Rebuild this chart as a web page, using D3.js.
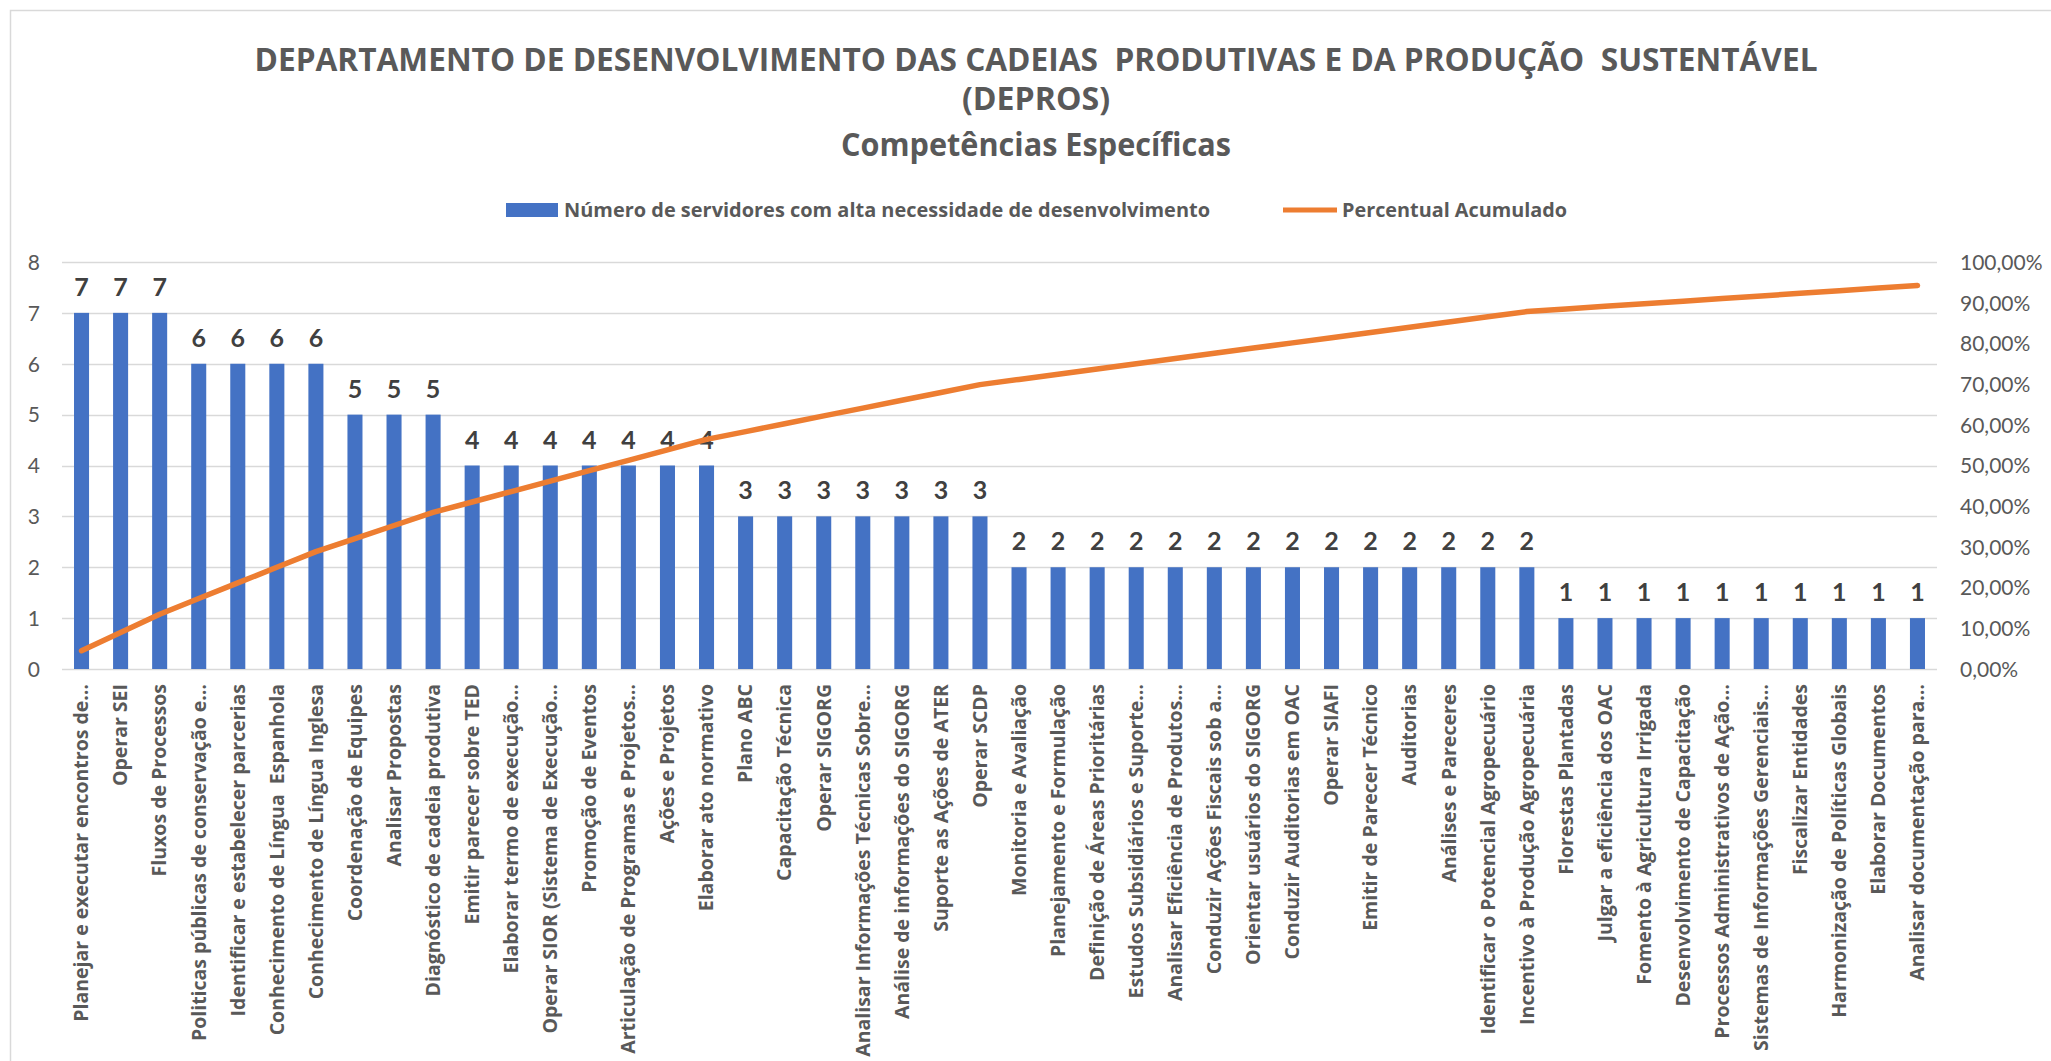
<!DOCTYPE html>
<html>
<head>
<meta charset="utf-8">
<script src="https://cdn.jsdelivr.net/npm/d3@7"></script>
<style>
  html, body { margin: 0; padding: 0; background: #fff; }
  svg { display: block; }
</style>
</head>
<body>
<svg width="2051" height="1061"></svg>
<script>
var categories = [
  'Planejar e executar encontros de…', 'Operar SEI', 'Fluxos de Processos',
  'Politicas públicas de conservação e…', 'Identificar e estabelecer parcerias',
  'Conhecimento de Língua  Espanhola', 'Conhecimento de Língua Inglesa',
  'Coordenação de Equipes', 'Analisar Propostas', 'Diagnóstico de cadeia produtiva',
  'Emitir parecer sobre TED', 'Elaborar termo de execução…',
  'Operar SIOR (Sistema de Execução…', 'Promoção de Eventos',
  'Articulação de Programas e Projetos…', 'Ações e Projetos', 'Elaborar ato normativo',
  'Plano ABC', 'Capacitação Técnica', 'Operar SIGORG',
  'Analisar Informações Técnicas Sobre…', 'Análise de informações do SIGORG',
  'Suporte as Ações de ATER', 'Operar SCDP', 'Monitoria e Avaliação',
  'Planejamento e Formulação', 'Definição de Áreas Prioritárias',
  'Estudos Subsidiários e Suporte…', 'Analisar Eficiência de Produtos…',
  'Conduzir Ações Fiscais sob a…', 'Orientar usuários do SIGORG',
  'Conduzir Auditorias em OAC', 'Operar SIAFI', 'Emitir de Parecer Técnico',
  'Auditorias', 'Análises e Pareceres', 'Identificar o Potencial Agropecuário',
  'Incentivo à Produção Agropecuária', 'Florestas Plantadas',
  'Julgar a eficiência dos OAC', 'Fomento à Agricultura Irrigada',
  'Desenvolvimento de Capacitação', 'Processos Administrativos de Ação…',
  'Sistemas de Informações Gerenciais…', 'Fiscalizar Entidades',
  'Harmonização de Políticas Globais', 'Elaborar Documentos',
  'Analisar documentação para…'
]

var servidores = [7, 7, 7, 6, 6, 6, 6, 5, 5, 5, 4, 4, 4, 4, 4, 4, 4, 3, 3, 3, 3, 3, 3, 3,
  2, 2, 2, 2, 2, 2, 2, 2, 2, 2, 2, 2, 2, 2, 1, 1, 1, 1, 1, 1, 1, 1, 1, 1]

// percentual acumulado (%)
var acumulado = [4.49, 8.97, 13.46, 17.31, 21.15, 25.00, 28.85, 32.05, 35.26, 38.46,
  41.03, 43.59, 46.15, 48.72, 51.28, 53.85, 56.41, 58.33, 60.26, 62.18, 64.10, 66.03,
  67.95, 69.87, 71.15, 72.44, 73.72, 75.00, 76.28, 77.56, 78.85, 80.13, 81.41, 82.69,
  83.97, 85.26, 86.54, 87.82, 88.46, 89.10, 89.74, 90.38, 91.03, 91.67, 92.31, 92.95,
  93.59, 94.23]

var leftTicks = [0, 1, 2, 3, 4, 5, 6, 7, 8]
var rightTicks = [0, 10, 20, 30, 40, 50, 60, 70, 80, 90, 100]

var titleLines = [
  'DEPARTAMENTO DE DESENVOLVIMENTO DAS CADEIAS  PRODUTIVAS E DA PRODUÇÃO  SUSTENTÁVEL',
  '(DEPROS)',
  'Competências Específicas'
]
var legendNames = ['Número de servidores com alta necessidade de desenvolvimento', 'Percentual Acumulado']

;(function (d3) {
  var svg = d3.select('svg')
  var gray = '#595959'
  var blue = '#4472C4'
  var orange = '#ED7D31'

  var plot = { left: 62, right: 1937, top: 262, bottom: 669 }

  // chart frame
  svg.append('rect')
    .attr('x', 10.5).attr('y', 10.5)
    .attr('width', 2200).attr('height', 1200)
    .style('fill', 'none')
    .style('stroke', '#d9d9d9')
    .style('stroke-width', 1.5)

  // titles
  var titleSpec = [
    { y: 71, len: 1563 },
    { y: 110, len: 148 },
    { y: 156, len: 390 }
  ]
  svg.selectAll('text.title')
    .data(titleLines)
    .enter().append('text')
    .attr('class', 'title')
    .attr('x', 1036)
    .attr('y', (d, i) => titleSpec[i].y)
    .attr('text-anchor', 'middle')
    .attr('textLength', (d, i) => titleSpec[i].len)
    .attr('lengthAdjust', 'spacingAndGlyphs')
    .style('white-space', 'pre')
    .style('font-family', 'Open Sans, sans-serif')
    .style('font-weight', 'bold')
    .style('font-size', '32px')
    .style('fill', gray)
    .text(d => d)

  // legend
  var lg = svg.append('g').attr('class', 'legend')
  lg.append('rect')
    .attr('x', 506).attr('y', 203)
    .attr('width', 52).attr('height', 14)
    .style('fill', blue)
  lg.append('text')
    .attr('x', 564).attr('y', 217)
    .attr('textLength', 646)
    .attr('lengthAdjust', 'spacingAndGlyphs')
    .style('font-family', 'Open Sans, sans-serif')
    .style('font-weight', 'bold')
    .style('font-size', '19px')
    .style('fill', gray)
    .text(legendNames[0])
  lg.append('line')
    .attr('x1', 1283).attr('x2', 1337)
    .attr('y1', 210).attr('y2', 210)
    .style('stroke', orange)
    .style('stroke-width', 5)
  lg.append('text')
    .attr('x', 1342).attr('y', 217)
    .attr('textLength', 225)
    .attr('lengthAdjust', 'spacingAndGlyphs')
    .style('font-family', 'Open Sans, sans-serif')
    .style('font-weight', 'bold')
    .style('font-size', '19px')
    .style('fill', gray)
    .text(legendNames[1])

  // scales
  var x = d3.scaleBand()
    .domain(categories)
    .range([plot.left, plot.right])
    .paddingInner(0.615)
    .paddingOuter(0.3075)

  var y = d3.scaleLinear().domain([0, 8]).range([plot.bottom, plot.top])
  var y2 = d3.scaleLinear().domain([0, 100]).range([plot.bottom, plot.top])

  // gridlines
  svg.append('g')
    .selectAll('line')
    .data(leftTicks)
    .enter().append('line')
    .attr('x1', plot.left).attr('x2', plot.right)
    .attr('y1', d => Math.round(y(d)) + 0.5)
    .attr('y2', d => Math.round(y(d)) + 0.5)
    .style('stroke', '#d9d9d9')
    .style('stroke-width', 1.5)

  // left axis
  var leftAxis = svg.append('g')
    .attr('transform', `translate(${plot.left - 22},0)`)
    .call(d3.axisLeft(y).tickValues(leftTicks).tickSize(0).tickPadding(0))
  leftAxis.select('.domain').remove()
  leftAxis.selectAll('text')
    .attr('dy', '0.35em')
    .style('font-family', 'Lato, sans-serif')
    .style('font-size', '21px')
    .style('fill', gray)

  // right axis
  var rightAxis = svg.append('g')
    .attr('transform', `translate(${plot.right + 23},0)`)
    .call(d3.axisRight(y2).tickValues(rightTicks).tickSize(0).tickPadding(0)
      .tickFormat(d => d3.format('.2f')(d).replace('.', ',') + '%'))
  rightAxis.select('.domain').remove()
  rightAxis.selectAll('text')
    .attr('dy', '0.35em')
    .style('font-family', 'Lato, sans-serif')
    .style('font-size', '21px')
    .style('fill', gray)

  // bars
  svg.append('g')
    .selectAll('rect')
    .data(servidores)
    .enter().append('rect')
    .attr('x', (d, i) => x(categories[i]))
    .attr('y', d => y(d))
    .attr('width', x.bandwidth())
    .attr('height', d => y(0) - y(d))
    .style('fill', blue)

  // bar value labels
  svg.append('g')
    .selectAll('text')
    .data(servidores)
    .enter().append('text')
    .attr('x', (d, i) => x(categories[i]) + x.bandwidth() / 2)
    .attr('y', d => y(d) - 17)
    .attr('text-anchor', 'middle')
    .style('font-family', 'Lato, sans-serif')
    .style('font-weight', 'bold')
    .style('font-size', '25px')
    .style('fill', '#404040')
    .text(d => d)

  // category labels (rotated)
  var xAxis = svg.append('g')
    .attr('transform', `translate(0,${plot.bottom})`)
    .call(d3.axisBottom(x).tickSize(0).tickPadding(0))
  xAxis.select('.domain').remove()
  xAxis.selectAll('text')
    .attr('transform', 'rotate(-90)')
    .attr('x', -15)
    .attr('y', 0)
    .attr('dy', '0.35em')
    .attr('text-anchor', 'end')
    .style('white-space', 'pre')
    .style('font-family', 'Open Sans, sans-serif')
    .style('font-weight', 'bold')
    .style('font-size', '19.5px')
    .style('fill', gray)

  // cumulative line
  var ln = d3.line()
    .x((d, i) => x(categories[i]) + x.bandwidth() / 2)
    .y(d => y2(d))

  svg.append('path')
    .datum(acumulado)
    .attr('d', ln)
    .style('fill', 'none')
    .style('stroke', orange)
    .style('stroke-width', 5.5)
    .style('stroke-linecap', 'round')
    .style('stroke-linejoin', 'round')
})(window.d3)
</script>
</body>
</html>
